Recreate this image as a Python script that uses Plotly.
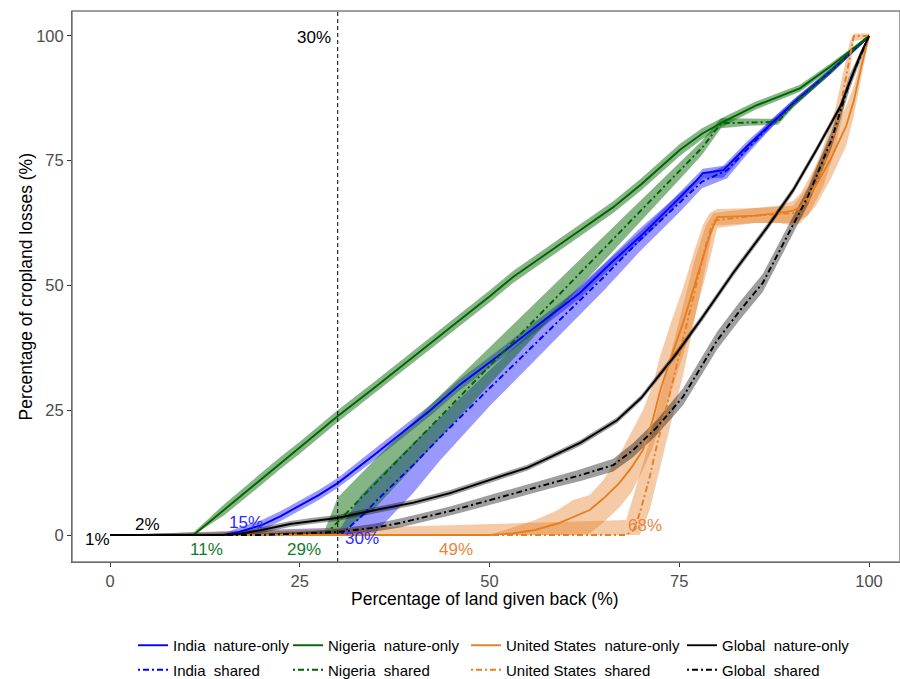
import plotly.graph_objects as go

# ---------------- data ----------------
# India nature-only
X_IN_NO = [0, 15, 17, 20, 22.5, 25, 27.5, 30, 35, 42.2, 46, 51, 55, 61.9, 66, 70, 72.5, 75, 77.3, 78.1, 80.8, 84, 87.4, 90, 95, 100]
Y_IN_NO = [0, 0, 0.6, 2, 3.8, 5.9, 8, 10.4, 16.3, 25, 30, 35.7, 40.5, 48.5, 54.5, 60, 63.7, 67.5, 71.1, 72.5, 73.1, 78, 82.8, 86.5, 93, 100]
LO_IN_NO = [0, 0, 0, 1, 2.8, 4.9, 7, 9.4, 15.2, 23.9, 28.9, 34.6, 39.4, 47.4, 53.5, 59, 62.7, 66.5, 70.2, 71.4, 71.6, 77, 82, 85.8, 92.4, 99.7]
HI_IN_NO = [0, 0.3, 1.5, 3, 4.8, 6.9, 9, 11.4, 17.4, 26.1, 31.1, 36.8, 41.6, 49.6, 55.5, 61, 64.7, 68.5, 72.1, 73.4, 74, 79, 83.6, 87.2, 93.6, 100.3]

# India shared
X_IN_SH = [0, 30.4, 33, 35, 40, 43.5, 50, 55, 60, 65, 69.8, 75, 78, 81.3, 83.9, 87.4, 90, 95, 100]
Y_IN_SH = [0, 0, 3.6, 6.7, 14.1, 19.6, 29.4, 36.8, 44.2, 51.6, 59.1, 66.5, 70.8, 73.1, 77.2, 82.8, 86.5, 93, 100]
LO_IN_SH = [0, 0, 0, 0.5, 8.5, 15.0, 25.8, 33.5, 41.2, 48.9, 56.8, 64.6, 69.5, 71.5, 76.2, 82, 85.8, 92.5, 99.7]
HI_IN_SH = [0, 1.5, 7.8, 11, 18.5, 23.6, 33, 40.1, 47.2, 54.3, 61.4, 68.4, 72.1, 74.2, 78.2, 83.6, 87.2, 93.5, 100.3]

# Nigeria nature-only
X_NG_NO = [0, 11, 15, 20, 22.4, 25, 29.9, 35, 39.9, 45, 50, 53.1, 60, 66.3, 70, 75.1, 78, 80.8, 85, 90.9, 95, 100]
Y_NG_NO = [0, 0, 5, 11.3, 14.4, 17.5, 23.7, 29.7, 35.7, 41.8, 47.8, 51.7, 59, 65.7, 70.3, 77.2, 80.4, 82.8, 86, 89.5, 94, 100]
LO_NG_NO = [0, 0, 3.9, 10.1, 13.2, 16.3, 22.5, 28.5, 34.5, 40.6, 46.6, 50.5, 57.8, 64.5, 69.1, 76, 79.3, 81.9, 85.2, 88.8, 93.4, 99.6]
HI_NG_NO = [0, 0.5, 6.1, 12.5, 15.6, 18.7, 24.9, 30.9, 36.9, 43, 49, 52.9, 60.2, 66.9, 71.5, 78.4, 81.5, 83.7, 86.8, 90.2, 94.6, 100.2]

# Nigeria shared
X_NG_SH = [0, 28.3, 30, 35, 40, 45, 50, 55, 60, 63.6, 70, 76.4, 78, 80.5, 84, 88, 90, 95, 100]
Y_NG_SH = [0, 0, 2.6, 10.4, 18.3, 26.1, 33.9, 41.7, 49.5, 55.1, 65.1, 75.1, 77.6, 82.5, 82.7, 82.8, 86.3, 93, 100]
LO_NG_SH = [0, 0, 0, 5.5, 13.8, 22, 30.3, 38.5, 46.6, 52.4, 63, 73.5, 76.2, 81.5, 82, 82.2, 85.6, 92.5, 99.7]
HI_NG_SH = [0, 1, 7.5, 15.3, 22.8, 30.2, 37.5, 44.9, 52.4, 57.8, 67.2, 76.7, 79, 83.5, 83.4, 83.4, 87, 93.5, 100.3]

# United States nature-only
X_US_NO = [0, 50, 53, 56, 59, 61, 63.2, 65, 67.1, 68.7, 70.2, 71.5, 72.5, 74, 75.5, 77, 78.1, 79, 80, 85, 88, 90, 91, 93, 95, 97, 98, 99, 100]
Y_US_NO = [0, 0, 0.3, 1, 2.3, 3.6, 5, 7.3, 10.4, 13.5, 17, 23, 29, 36, 42.5, 50, 55.7, 60, 63.7, 64, 64.5, 65, 65.7, 70, 75.5, 82, 87, 94, 100]
LO_US_NO = [0, 0, 0, 0, 0, 0, 0.3, 2.5, 5.5, 8.5, 13, 17.5, 22, 29, 36, 43.5, 50, 55, 61.5, 62.5, 62.5, 62, 62.5, 66, 71.5, 78, 84, 91.5, 99.5]
HI_US_NO = [0, 0, 1.5, 3, 5, 7, 8, 11, 16, 20.5, 25, 30, 36, 43, 49.5, 57, 62, 64.5, 65.3, 65.5, 66, 67, 68.5, 74, 79.5, 86, 90, 96, 100.5]

# United States shared
X_US_SH = [0, 68, 69, 69.8, 71.1, 72.2, 72.9, 74, 75.5, 77, 78.5, 79.5, 85, 90, 92, 94, 95.5, 96.5, 97.5, 98, 100]
Y_US_SH = [0, 0, 1, 4.4, 11.6, 19, 23, 30, 39, 49, 58, 63, 64, 64.5, 67, 74, 81, 88, 96, 100, 100]
LO_US_SH = [0, 0, 0, 0, 5, 12, 16, 23, 32, 43, 54, 62, 62.5, 62.5, 64, 70, 77, 84, 93, 99, 99.5]
HI_US_SH = [0, 3, 8, 12, 19, 26, 30, 37, 46, 55, 62, 64.5, 65.5, 66, 70, 78, 85, 92, 99, 100.5, 100.5]

# Global nature-only
X_GL_NO = [0, 15, 17, 20, 23.7, 26.5, 29.9, 35, 40, 44.8, 50, 55, 58, 62, 66.8, 70, 74.7, 78, 82.1, 86.6, 90, 93, 96.2, 98.8, 100]
Y_GL_NO = [0, 0, 0.2, 1, 2.2, 2.8, 3.4, 5, 6.5, 8.4, 11, 13.5, 15.6, 18.5, 23, 27.5, 36.5, 43.5, 52.5, 61.7, 69.1, 77, 85.8, 96, 100]
LO_GL_NO = [0, 0, 0, 0.4, 1.6, 2.2, 2.8, 4.4, 5.9, 7.8, 10.4, 12.9, 15, 17.9, 22.4, 26.9, 35.8, 42.8, 51.8, 61, 68.4, 76.3, 85.1, 95.3, 99.7]
HI_GL_NO = [0, 0.2, 0.6, 1.6, 2.8, 3.4, 4, 5.6, 7.1, 9, 11.6, 14.1, 16.2, 19.1, 23.6, 28.1, 37.2, 44.2, 53.2, 62.4, 69.8, 77.7, 86.5, 96.7, 100.3]

# Global shared
X_GL_SH = [0, 20, 25, 30, 35, 38.2, 44.8, 50, 58, 62, 66.3, 68.9, 72, 75.5, 80, 83, 86, 89.6, 92, 95, 97.5, 100]
Y_GL_SH = [0, 0, 0.3, 0.6, 1.5, 2.4, 4.8, 7, 10.4, 12, 14, 17, 21.5, 27.7, 39, 45, 50.5, 61, 68, 79, 91, 100]
LO_GL_SH = [0, 0, 0, 0, 0.7, 1.5, 3.9, 6, 9.3, 10.8, 12.7, 15.6, 20, 26, 37.2, 43.2, 48.7, 59.3, 66.3, 77.3, 89.5, 99.6]
HI_GL_SH = [0, 0.3, 0.6, 1.2, 2.3, 3.3, 5.7, 8, 11.5, 13.2, 15.3, 18.4, 23, 29.4, 40.8, 46.8, 52.3, 62.7, 69.7, 80.7, 92.5, 100.4]

# threshold labels
LABEL_TEXT = ["1%", "2%", "11%", "15%", "29%", "30%", "49%", "68%", "30%"]
LABEL_X = [-1.7, 4.9, 12.7, 17.9, 25.6, 33.2, 45.6, 70.5, 26.9]
LABEL_Y = [-1.0, 2.2, -3.0, 2.6, -3.0, -0.6, -3.0, 2.0, 99.6]
LABEL_COUNTRY = ["Global", "Global", "Nigeria", "India", "Nigeria", "India", "United States", "United States", "Global"]

THRESHOLD_X = 30

X_TITLE = "Percentage of land given back (%)"
Y_TITLE = "Percentage of cropland losses (%)"

COUNTRIES = ["India", "Nigeria", "United States", "Global"]

# ---------------- styles ----------------
LINE_COL = {"India": "#0000FF", "Nigeria": "#006400", "United States": "#E67E22", "Global": "#000000"}
FILL_COL = {"India": "rgba(0,0,255,0.40)", "Nigeria": "rgba(0,100,0,0.48)",
            "United States": "rgba(230,126,34,0.40)", "Global": "rgba(0,0,0,0.38)"}
LABEL_COL = {"India": "#2B2BFF", "Nigeria": "#137A2C", "United States": "#E8853A", "Global": "#000000"}

series = {
    ("India", "nature-only"): (X_IN_NO, Y_IN_NO, LO_IN_NO, HI_IN_NO),
    ("India", "shared"): (X_IN_SH, Y_IN_SH, LO_IN_SH, HI_IN_SH),
    ("Nigeria", "nature-only"): (X_NG_NO, Y_NG_NO, LO_NG_NO, HI_NG_NO),
    ("Nigeria", "shared"): (X_NG_SH, Y_NG_SH, LO_NG_SH, HI_NG_SH),
    ("United States", "nature-only"): (X_US_NO, Y_US_NO, LO_US_NO, HI_US_NO),
    ("United States", "shared"): (X_US_SH, Y_US_SH, LO_US_SH, HI_US_SH),
    ("Global", "nature-only"): (X_GL_NO, Y_GL_NO, LO_GL_NO, HI_GL_NO),
    ("Global", "shared"): (X_GL_SH, Y_GL_SH, LO_GL_SH, HI_GL_SH),
}

fig = go.Figure()

# ribbons first
for c in COUNTRIES:
    for s in ["nature-only", "shared"]:
        x, y, lo, hi = series[(c, s)]
        fig.add_trace(go.Scatter(
            x=list(x) + list(x)[::-1], y=list(hi) + list(lo)[::-1],
            fill="toself", fillcolor=FILL_COL[c], line=dict(width=0),
            mode="lines", hoverinfo="skip", showlegend=False))

legend_ids = {"India": "legend", "Nigeria": "legend2", "United States": "legend3", "Global": "legend4"}

# lines
for c in COUNTRIES:
    for s in ["nature-only", "shared"]:
        x, y, lo, hi = series[(c, s)]
        fig.add_trace(go.Scatter(
            x=x, y=y, mode="lines",
            line=dict(color=LINE_COL[c], width=1.9,
                      dash="solid" if s == "nature-only" else "2px,3px,6px,3px"),
            name=f"{c}  {s}", legend=legend_ids[c], legendgroup=f"{c}{s}"))

# labels
for t, lx, ly, c in zip(LABEL_TEXT, LABEL_X, LABEL_Y, LABEL_COUNTRY):
    fig.add_annotation(x=lx, y=ly, text=t, showarrow=False, xanchor="center", yanchor="middle",
                       font=dict(family="Liberation Sans, Arial", size=17, color=LABEL_COL[c]))

# threshold line
fig.add_shape(type="line", x0=THRESHOLD_X, x1=THRESHOLD_X, xref="x", y0=0, y1=1, yref="paper",
              line=dict(color="black", width=1, dash="4px,3px"))
# panel border
fig.add_shape(type="rect", x0=0, x1=1, y0=0, y1=1, xref="paper", yref="paper",
              line=dict(color="#7F7F7F", width=1.5), layer="above")

PLOT_L, PLOT_W, PLOT_B, PLOT_H = 72, 828, 562, 551


def px_to_paper(px, py):
    return (px - PLOT_L) / PLOT_W, (PLOT_B - py) / PLOT_H


# axis titles as annotations
tx, ty = px_to_paper(485, 599)
fig.add_annotation(x=tx, y=ty, xref="paper", yref="paper", text=X_TITLE, showarrow=False,
                   xanchor="center", yanchor="middle",
                   font=dict(family="Liberation Sans, Arial", size=17.5, color="#000000"))
tx, ty = px_to_paper(25, 286.5)
fig.add_annotation(x=tx, y=ty, xref="paper", yref="paper", text=Y_TITLE, showarrow=False,
                   xanchor="center", yanchor="middle", textangle=-90,
                   font=dict(family="Liberation Sans, Arial", size=17.5, color="#000000"))

leg_common = dict(xref="paper", yref="paper", xanchor="left", yanchor="top",
                  orientation="v", bgcolor="rgba(0,0,0,0)", tracegroupgap=2,
                  font=dict(family="Liberation Sans, Arial", size=15, color="#000000"))
legend_px = [133, 288, 466, 682]
legs = {}
for i, key in enumerate(["legend", "legend2", "legend3", "legend4"]):
    lx, ly = px_to_paper(legend_px[i], 629)
    legs[key] = dict(x=lx, y=ly, **leg_common)

fig.update_layout(
    width=900, height=679,
    margin=dict(l=72, r=0, t=11, b=117, autoexpand=False),
    paper_bgcolor="white", plot_bgcolor="white",
    font=dict(family="Liberation Sans, Arial", color="#000000"),
    xaxis=dict(range=[-5.006, 104.08], tickvals=[0, 25, 50, 75, 100], showgrid=False, zeroline=False,
               automargin=False,
               ticks="outside", ticklen=4, tickcolor="#333333", showline=True, linecolor="#333333", linewidth=1,
               tickfont=dict(size=16.5, color="#4D4D4D")),
    yaxis=dict(range=[-5.41, 105.0], tickvals=[0, 25, 50, 75, 100], showgrid=False, zeroline=False,
               automargin=False,
               ticks="outside", ticklen=4, tickcolor="#333333", showline=True, linecolor="#333333", linewidth=1,
               tickfont=dict(size=16.5, color="#4D4D4D")),
    **legs,
)

fig.write_html("out.html")
